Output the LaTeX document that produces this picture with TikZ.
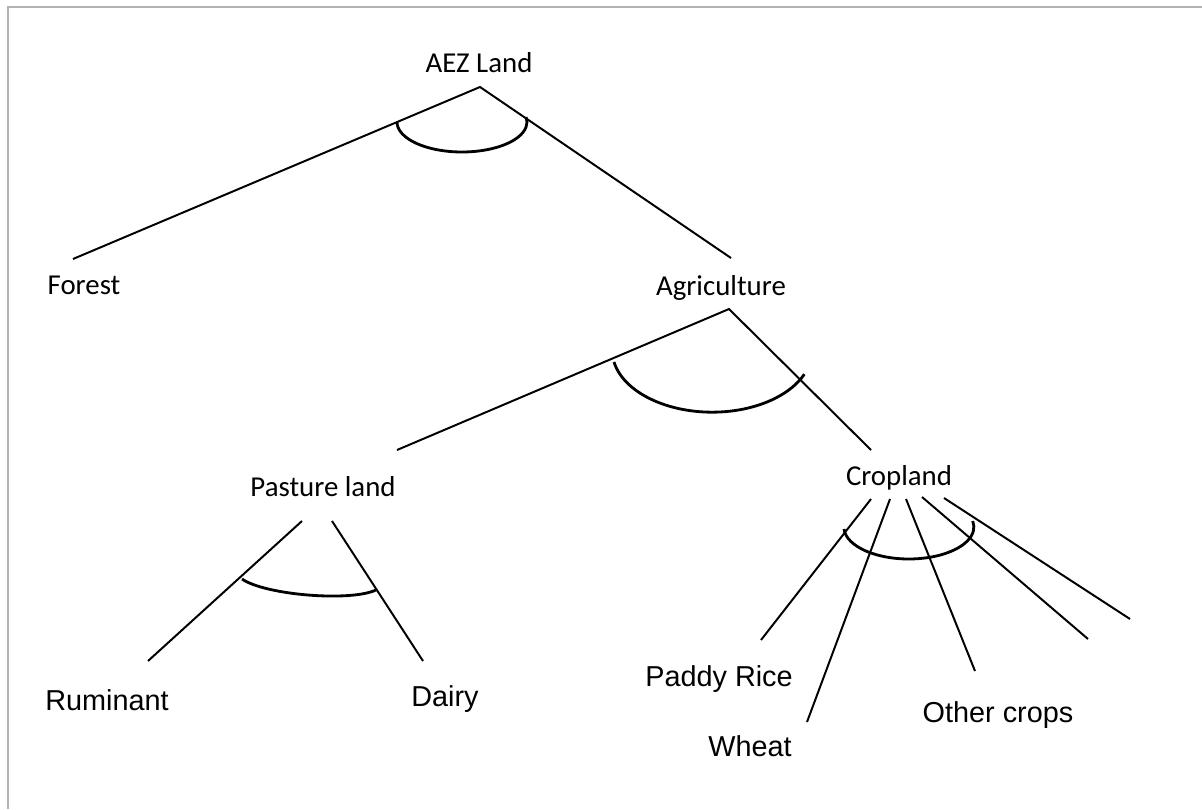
\documentclass[tikz,border=0pt]{standalone}
\usepackage{fontspec}
\setmainfont{Carlito}
\newfontfamily\arialfont{Liberation Sans}

\tikzset{
  lbl/.style={font=\fontsize{20.5}{24}\selectfont, inner sep=0pt, anchor=base},
  leaf/.style={font=\arialfont\fontsize{20.5}{24}\selectfont, inner sep=0pt, anchor=base},
  branch/.style={line width=1.4pt},
  fork/.style={line width=2pt},
  frame/.style={draw=black!30, line width=1.8pt}
}

\begin{document}
\begin{tikzpicture}[x=0.025cm,y=-0.025cm]
    \useasboundingbox (0,0) rectangle (1202,809);
    \draw[frame] (8,809) -- (8,7) -- (1202,7);

    % labels
    \node[lbl]  (aez)     at (479,72)  {AEZ Land};
    \node[lbl]  (forest)  at (84,294)  {Forest};
    \node[lbl]  (agri)    at (721,295) {Agriculture};
    \node[lbl]  (pasture) at (323,496) {Pasture land};
    \node[lbl]  (crop)    at (899,485) {Cropland};
    \node[leaf] (rumi)    at (107,710) {Ruminant};
    \node[leaf] (dairy)   at (445,706) {Dairy};
    \node[leaf] (paddy)   at (719,686) {Paddy Rice};
    \node[leaf] (wheat)   at (750,756) {Wheat};
    \node[leaf] (other)   at (998,722) {Other crops};

    % end points of the branches
    \coordinate (aez-s)    at (480,87);
    \coordinate (forest-n) at (73,259);
    \coordinate (agri-n)   at (731,258);
    \coordinate (agri-s)   at (729,309);
    \coordinate (past-n)   at (397,450);
    \coordinate (crop-n)   at (871,450);
    \coordinate (past-sw)  at (302,521);
    \coordinate (past-se)  at (332,521);
    \coordinate (rumi-n)   at (148,661);
    \coordinate (dairy-n)  at (423,661);
    \coordinate (crop-s1)  at (871,499);
    \coordinate (crop-s2)  at (890,499);
    \coordinate (crop-s3)  at (906,499);
    \coordinate (crop-s4)  at (922,497);
    \coordinate (crop-s5)  at (944,498);
    \coordinate (paddy-n)  at (761,640);
    \coordinate (wheat-n)  at (807,722);
    \coordinate (other-n)  at (975,671);
    \coordinate (free-4)   at (1088,639);
    \coordinate (free-5)   at (1130,619);

    % branches
    \draw[branch] (forest-n) -- (aez-s) -- (agri-n);
    \draw[branch] (past-n) -- (agri-s) -- (crop-n);
    \draw[branch] (past-sw) -- (rumi-n);
    \draw[branch] (past-se) -- (dairy-n);
    \draw[branch] (crop-s1) -- (paddy-n);
    \draw[branch] (crop-s2) -- (wheat-n);
    \draw[branch] (crop-s3) -- (other-n);
    \draw[branch] (crop-s4) -- (free-4);
    \draw[branch] (crop-s5) -- (free-5);

    % arcs
    \draw[fork] (397,122) arc[start angle=180, end angle=-9.6, x radius=65, y radius=30];
    \draw[fork] (614,362) arc[start angle=169, end angle=22.8, x radius=100, y radius=62];
    \draw[fork] (242,579) .. controls (265,595) and (350,602) .. (376,590);
    \draw[fork] (844,529) arc[start angle=176.4, end angle=-10.8, x radius=65, y radius=32];
\end{tikzpicture}
\end{document}
